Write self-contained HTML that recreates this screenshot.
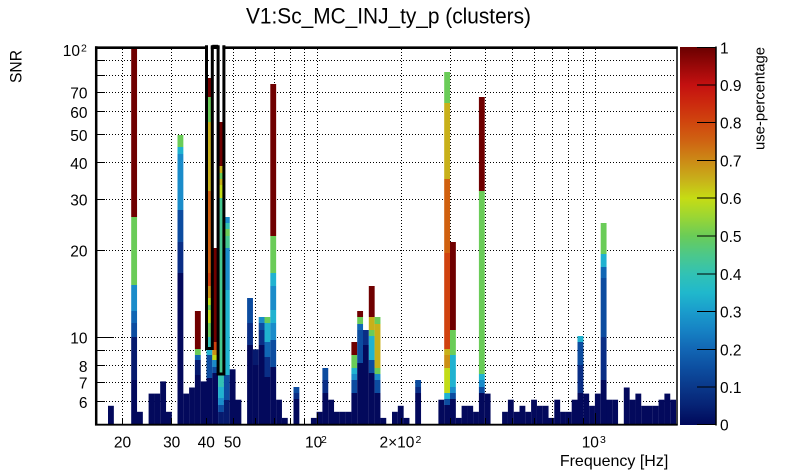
<!DOCTYPE html>
<html><head><meta charset="utf-8"><style>
html,body{margin:0;padding:0;background:#fff;}
body{width:805px;height:472px;overflow:hidden;}
svg{display:block;font-family:"Liberation Sans",Arial,sans-serif;}
.n{fill:#03095c}.n1{fill:#061a6e}.n2{fill:#0a2e86}.b1{fill:#0c4ca0}.b2{fill:#1066b4}.b3{fill:#1a8cca}
.cy{fill:#20b2d0}.tl{fill:#32c2b4}.tg{fill:#46c890}.gr{fill:#6acc58}.yg{fill:#c2dc18}.yl{fill:#c8b01a}
.oc{fill:#cc9016}.or{fill:#d0600e}.ro{fill:#d0420e}.dr{fill:#700000}
</style></head><body>
<svg width="805" height="472" viewBox="0 0 805 472" xmlns="http://www.w3.org/2000/svg">
<defs>
<linearGradient id="pal" x1="0" y1="0" x2="0" y2="1">
<stop offset="0" stop-color="#6a0000"/><stop offset="0.05" stop-color="#980808"/><stop offset="0.10" stop-color="#c41010"/>
<stop offset="0.15" stop-color="#cc2a0e"/><stop offset="0.20" stop-color="#d0460e"/><stop offset="0.25" stop-color="#cf6412"/>
<stop offset="0.30" stop-color="#cc8a16"/><stop offset="0.35" stop-color="#c8b01a"/><stop offset="0.40" stop-color="#c6dc14"/>
<stop offset="0.45" stop-color="#9ad634"/><stop offset="0.50" stop-color="#6acc58"/><stop offset="0.55" stop-color="#4cc88a"/>
<stop offset="0.60" stop-color="#32c2b4"/><stop offset="0.65" stop-color="#20b8cc"/><stop offset="0.70" stop-color="#1a9ccc"/>
<stop offset="0.75" stop-color="#1682c4"/><stop offset="0.80" stop-color="#1266b4"/><stop offset="0.85" stop-color="#0c4ea0"/>
<stop offset="0.90" stop-color="#0a388a"/><stop offset="0.95" stop-color="#062274"/><stop offset="1" stop-color="#00085a"/>
</linearGradient>
</defs>
<rect x="0" y="0" width="805" height="472" fill="#fff"/>

<text x="246" y="23.5" font-size="22" textLength="285" lengthAdjust="spacingAndGlyphs">V1:Sc_MC_INJ_ty_p (clusters)</text>

<g stroke="#000" stroke-width="1" stroke-dasharray="1,2" fill="none">
<path d="M97,401.5H676M97,382.5H676M97,365.5H676M97,350.5H676M97,337.5H676M97,250.5H676M97,199.5H676M97,162.5H676M97,134.5H676M97,111.5H676M97,92.5H676M97,75.5H676M97,60.5H676"/>
<path d="M122.5,49V423M171.5,49V423M206.5,49V423M233.5,49V423M255.5,49V423M274.5,49V423M290.5,49V423M304.5,49V423M317.5,49V423M401.5,49V423M450.5,49V423M485.5,49V423M512.5,49V423M534.5,49V423M552.5,49V423M568.5,49V423M583.5,49V423M595.5,49V423"/>
</g>

<g>
<rect class="n" x="108.0" y="405.8" width="5.85" height="18.2"/>
<rect class="n" x="131.2" y="380" width="5.85" height="44"/>
<rect class="n1" x="131.2" y="337" width="5.85" height="43"/>
<rect class="b1" x="131.2" y="323" width="5.85" height="14"/>
<rect class="b2" x="131.2" y="311" width="5.85" height="12"/>
<rect class="b3" x="131.2" y="285" width="5.85" height="26"/>
<rect class="gr" x="131.2" y="217" width="5.85" height="68"/>
<rect class="dr" x="131.2" y="47" width="5.85" height="170"/>
<rect class="n" x="137.0" y="411.8" width="5.85" height="12.2"/>
<rect class="n" x="148.6" y="393.6" width="5.85" height="30.4"/>
<rect class="n" x="154.4" y="393.6" width="5.85" height="30.4"/>
<rect class="n" x="160.2" y="381.4" width="5.85" height="42.6"/>
<rect class="n" x="166.0" y="411.8" width="5.85" height="12.2"/>
<rect class="n" x="177.5" y="273" width="5.85" height="151"/>
<rect class="n2" x="177.5" y="242" width="5.85" height="31"/>
<rect class="b1" x="177.5" y="210" width="5.85" height="32"/>
<rect class="b3" x="177.5" y="154" width="5.85" height="56"/>
<rect class="cy" x="177.5" y="147" width="5.85" height="7"/>
<rect class="gr" x="177.5" y="135" width="5.85" height="12"/>
<rect class="n" x="183.3" y="393.6" width="5.85" height="30.4"/>
<rect class="n" x="189.1" y="387.5" width="5.85" height="36.5"/>
<rect class="n" x="194.9" y="375" width="5.85" height="49"/>
<rect class="n1" x="194.9" y="360" width="5.85" height="15"/>
<rect class="b2" x="194.9" y="355" width="5.85" height="5"/>
<rect class="gr" x="194.9" y="349" width="5.85" height="6"/>
<rect class="dr" x="194.9" y="311" width="5.85" height="38"/>
<rect class="n" x="200.7" y="381.4" width="5.85" height="42.6"/>
<rect class="n" x="206.5" y="378" width="5.85" height="46"/>
<rect class="b1" x="206.5" y="355" width="5.85" height="23"/>
<rect class="cy" x="206.5" y="350" width="5.85" height="5"/>
<rect class="tl" x="206.5" y="337" width="5.85" height="13"/>
<rect class="gr" x="206.5" y="323" width="5.85" height="14"/>
<rect class="yg" x="206.5" y="310" width="5.85" height="13"/>
<rect class="gr" x="206.5" y="305" width="5.85" height="5"/>
<rect class="yg" x="206.5" y="298" width="5.85" height="7"/>
<rect class="oc" x="206.5" y="286" width="5.85" height="12"/>
<rect class="ro" x="206.5" y="273" width="5.85" height="13"/>
<rect class="or" x="206.5" y="191" width="5.85" height="82"/>
<rect class="yl" x="206.5" y="122" width="5.85" height="69"/>
<rect class="gr" x="206.5" y="97" width="5.85" height="25"/>
<rect class="dr" x="206.5" y="78" width="5.85" height="19"/>
<rect class="n" x="212.3" y="373" width="5.85" height="51"/>
<rect class="b1" x="212.3" y="367" width="5.85" height="6"/>
<rect class="b3" x="212.3" y="360" width="5.85" height="7"/>
<rect class="yg" x="212.3" y="355" width="5.85" height="5"/>
<rect class="oc" x="212.3" y="350" width="5.85" height="5"/>
<rect class="ro" x="212.3" y="342" width="5.85" height="8"/>
<rect class="dr" x="212.3" y="248" width="5.85" height="94"/>
<rect class="n1" x="218.1" y="412" width="5.85" height="12"/>
<rect class="b1" x="218.1" y="405" width="5.85" height="7"/>
<rect class="b3" x="218.1" y="398" width="5.85" height="7"/>
<rect class="cy" x="218.1" y="387" width="5.85" height="11"/>
<rect class="tl" x="218.1" y="375" width="5.85" height="12"/>
<rect class="tg" x="218.1" y="198" width="5.85" height="177"/>
<rect class="yg" x="218.1" y="185" width="5.85" height="13"/>
<rect class="yl" x="218.1" y="179" width="5.85" height="6"/>
<rect class="gr" x="218.1" y="173" width="5.85" height="6"/>
<rect class="yl" x="218.1" y="166" width="5.85" height="7"/>
<rect class="dr" x="218.1" y="122" width="5.85" height="44"/>
<rect class="n1" x="223.9" y="400" width="5.85" height="24"/>
<rect class="b1" x="223.9" y="375" width="5.85" height="25"/>
<rect class="cy" x="223.9" y="290" width="5.85" height="85"/>
<rect class="b3" x="223.9" y="248" width="5.85" height="42"/>
<rect class="tg" x="223.9" y="236" width="5.85" height="12"/>
<rect class="gr" x="223.9" y="229" width="5.85" height="7"/>
<rect class="tl" x="223.9" y="223" width="5.85" height="6"/>
<rect class="b3" x="223.9" y="217" width="5.85" height="6"/>
<rect class="n" x="229.7" y="369.3" width="5.85" height="54.7"/>
<rect class="n" x="235.5" y="399.7" width="5.85" height="24.3"/>
<rect class="n" x="247.1" y="345" width="5.85" height="79"/>
<rect class="n2" x="247.1" y="323" width="5.85" height="22"/>
<rect class="b1" x="247.1" y="298" width="5.85" height="25"/>
<rect class="n" x="252.9" y="365" width="5.85" height="59"/>
<rect class="n1" x="252.9" y="349.3" width="5.85" height="15.7"/>
<rect class="n" x="258.7" y="345" width="5.85" height="79"/>
<rect class="n2" x="258.7" y="330" width="5.85" height="15"/>
<rect class="b1" x="258.7" y="323" width="5.85" height="7"/>
<rect class="b3" x="258.7" y="317" width="5.85" height="6"/>
<rect class="n" x="264.5" y="377" width="5.85" height="47"/>
<rect class="n2" x="264.5" y="357" width="5.85" height="20"/>
<rect class="b2" x="264.5" y="342" width="5.85" height="15"/>
<rect class="cy" x="264.5" y="323" width="5.85" height="19"/>
<rect class="gr" x="264.5" y="317" width="5.85" height="6"/>
<rect class="n" x="270.3" y="367" width="5.85" height="57"/>
<rect class="b1" x="270.3" y="340" width="5.85" height="27"/>
<rect class="b3" x="270.3" y="323" width="5.85" height="17"/>
<rect class="cy" x="270.3" y="310" width="5.85" height="13"/>
<rect class="b3" x="270.3" y="286" width="5.85" height="24"/>
<rect class="cy" x="270.3" y="273" width="5.85" height="13"/>
<rect class="gr" x="270.3" y="236" width="5.85" height="37"/>
<rect class="dr" x="270.3" y="84" width="5.85" height="152"/>
<rect class="n" x="276.1" y="399.7" width="5.85" height="24.3"/>
<rect class="n" x="281.9" y="417.9" width="5.85" height="6.1"/>
<rect class="n" x="293.5" y="399" width="5.85" height="25"/>
<rect class="n2" x="293.5" y="393" width="5.85" height="6"/>
<rect class="b1" x="293.5" y="387" width="5.85" height="6"/>
<rect class="n" x="310.9" y="417.9" width="5.85" height="6.1"/>
<rect class="n" x="316.6" y="411.8" width="5.85" height="12.2"/>
<rect class="n" x="322.4" y="393" width="5.85" height="31"/>
<rect class="n2" x="322.4" y="380" width="5.85" height="13"/>
<rect class="b1" x="322.4" y="368" width="5.85" height="12"/>
<rect class="n" x="328.2" y="399.7" width="5.85" height="24.3"/>
<rect class="n" x="334.0" y="411.8" width="5.85" height="12.2"/>
<rect class="n" x="339.8" y="411.8" width="5.85" height="12.2"/>
<rect class="n" x="345.6" y="411.8" width="5.85" height="12.2"/>
<rect class="n" x="351.4" y="393" width="5.85" height="31"/>
<rect class="b1" x="351.4" y="380" width="5.85" height="13"/>
<rect class="b3" x="351.4" y="374" width="5.85" height="6"/>
<rect class="cy" x="351.4" y="368" width="5.85" height="6"/>
<rect class="gr" x="351.4" y="355" width="5.85" height="13"/>
<rect class="dr" x="351.4" y="342" width="5.85" height="13"/>
<rect class="n" x="357.2" y="363" width="5.85" height="61"/>
<rect class="b1" x="357.2" y="330" width="5.85" height="33"/>
<rect class="b2" x="357.2" y="324" width="5.85" height="6"/>
<rect class="gr" x="357.2" y="317" width="5.85" height="7"/>
<rect class="dr" x="357.2" y="311" width="5.85" height="6"/>
<rect class="n" x="363.0" y="345" width="5.85" height="79"/>
<rect class="n2" x="363.0" y="330" width="5.85" height="15"/>
<rect class="n" x="368.8" y="373" width="5.85" height="51"/>
<rect class="b1" x="368.8" y="360" width="5.85" height="13"/>
<rect class="cy" x="368.8" y="336" width="5.85" height="24"/>
<rect class="gr" x="368.8" y="330" width="5.85" height="6"/>
<rect class="yl" x="368.8" y="317" width="5.85" height="13"/>
<rect class="dr" x="368.8" y="286" width="5.85" height="31"/>
<rect class="n" x="374.6" y="393" width="5.85" height="31"/>
<rect class="b1" x="374.6" y="380" width="5.85" height="13"/>
<rect class="b3" x="374.6" y="374" width="5.85" height="6"/>
<rect class="gr" x="374.6" y="368" width="5.85" height="6"/>
<rect class="yl" x="374.6" y="324" width="5.85" height="44"/>
<rect class="gr" x="374.6" y="317" width="5.85" height="7"/>
<rect class="n" x="380.4" y="417.9" width="5.85" height="6.1"/>
<rect class="n" x="392.0" y="411.8" width="5.85" height="12.2"/>
<rect class="n" x="397.8" y="405.8" width="5.85" height="18.2"/>
<rect class="n" x="403.6" y="417.9" width="5.85" height="6.1"/>
<rect class="n" x="415.2" y="393" width="5.85" height="31"/>
<rect class="n2" x="415.2" y="387" width="5.85" height="6"/>
<rect class="b1" x="415.2" y="380" width="5.85" height="7"/>
<rect class="n" x="438.4" y="399.7" width="5.85" height="24.3"/>
<rect class="n" x="444.2" y="405" width="5.85" height="19"/>
<rect class="b1" x="444.2" y="399" width="5.85" height="6"/>
<rect class="cy" x="444.2" y="393" width="5.85" height="6"/>
<rect class="yg" x="444.2" y="368" width="5.85" height="25"/>
<rect class="oc" x="444.2" y="355" width="5.85" height="13"/>
<rect class="yl" x="444.2" y="349" width="5.85" height="6"/>
<rect class="ro" x="444.2" y="253" width="5.85" height="96"/>
<rect class="or" x="444.2" y="179" width="5.85" height="74"/>
<rect class="yl" x="444.2" y="103" width="5.85" height="76"/>
<rect class="gr" x="444.2" y="72" width="5.85" height="31"/>
<rect class="n" x="450.0" y="399" width="5.85" height="25"/>
<rect class="b1" x="450.0" y="393" width="5.85" height="6"/>
<rect class="b3" x="450.0" y="387" width="5.85" height="6"/>
<rect class="cy" x="450.0" y="355" width="5.85" height="32"/>
<rect class="gr" x="450.0" y="330" width="5.85" height="25"/>
<rect class="dr" x="450.0" y="242" width="5.85" height="88"/>
<rect class="n" x="455.8" y="417.9" width="5.85" height="6.1"/>
<rect class="n" x="461.6" y="405.8" width="5.85" height="18.2"/>
<rect class="n" x="467.3" y="405.8" width="5.85" height="18.2"/>
<rect class="n" x="473.1" y="411.8" width="5.85" height="12.2"/>
<rect class="n" x="478.9" y="393" width="5.85" height="31"/>
<rect class="b1" x="478.9" y="387" width="5.85" height="6"/>
<rect class="b3" x="478.9" y="380" width="5.85" height="7"/>
<rect class="cy" x="478.9" y="374" width="5.85" height="6"/>
<rect class="gr" x="478.9" y="191" width="5.85" height="183"/>
<rect class="dr" x="478.9" y="97" width="5.85" height="94"/>
<rect class="n" x="484.7" y="393.6" width="5.85" height="30.4"/>
<rect class="n" x="502.1" y="411.8" width="5.85" height="12.2"/>
<rect class="n" x="507.9" y="399.7" width="5.85" height="24.3"/>
<rect class="n" x="513.7" y="411.8" width="5.85" height="12.2"/>
<rect class="n" x="519.5" y="405.8" width="5.85" height="18.2"/>
<rect class="n" x="525.3" y="411.8" width="5.85" height="12.2"/>
<rect class="n" x="531.1" y="399.7" width="5.85" height="24.3"/>
<rect class="n" x="536.9" y="405.8" width="5.85" height="18.2"/>
<rect class="n" x="542.7" y="405.8" width="5.85" height="18.2"/>
<rect class="n" x="548.5" y="417.9" width="5.85" height="6.1"/>
<rect class="n" x="554.3" y="399.7" width="5.85" height="24.3"/>
<rect class="n" x="560.1" y="411.8" width="5.85" height="12.2"/>
<rect class="n" x="565.9" y="411.8" width="5.85" height="12.2"/>
<rect class="n" x="571.7" y="399.7" width="5.85" height="24.3"/>
<rect class="n" x="577.5" y="393" width="5.85" height="31"/>
<rect class="n2" x="577.5" y="365" width="5.85" height="28"/>
<rect class="b1" x="577.5" y="342" width="5.85" height="23"/>
<rect class="cy" x="577.5" y="336" width="5.85" height="6"/>
<rect class="n" x="583.3" y="393.6" width="5.85" height="30.4"/>
<rect class="n" x="589.1" y="405.8" width="5.85" height="18.2"/>
<rect class="n" x="594.9" y="393.6" width="5.85" height="30.4"/>
<rect class="n" x="600.7" y="380" width="5.85" height="44"/>
<rect class="n2" x="600.7" y="337" width="5.85" height="43"/>
<rect class="b1" x="600.7" y="278" width="5.85" height="59"/>
<rect class="b2" x="600.7" y="267" width="5.85" height="11"/>
<rect class="cy" x="600.7" y="254" width="5.85" height="13"/>
<rect class="gr" x="600.7" y="223" width="5.85" height="31"/>
<rect class="n" x="606.4" y="399.7" width="5.85" height="24.3"/>
<rect class="n" x="612.2" y="399.7" width="5.85" height="24.3"/>
<rect class="n" x="623.8" y="387.5" width="5.85" height="36.5"/>
<rect class="n" x="629.6" y="399.7" width="5.85" height="24.3"/>
<rect class="n" x="635.4" y="393.6" width="5.85" height="30.4"/>
<rect class="n" x="641.2" y="405.8" width="5.85" height="18.2"/>
<rect class="n" x="647.0" y="405.8" width="5.85" height="18.2"/>
<rect class="n" x="652.8" y="405.8" width="5.85" height="18.2"/>
<rect class="n" x="658.6" y="399.7" width="5.85" height="24.3"/>
<rect class="n" x="664.4" y="393.6" width="5.85" height="30.4"/>
<rect class="n" x="670.2" y="399.7" width="5.8" height="24.3"/>
</g>

<g stroke="#000" fill="none">
<line x1="96.2" y1="46.3" x2="96.2" y2="425.5" stroke-width="2.5"/>
<line x1="95" y1="47.7" x2="677.7" y2="47.7" stroke-width="2.6"/>
<line x1="677" y1="46.5" x2="677" y2="425.3" stroke-width="1.5"/>
<line x1="95" y1="424.7" x2="677.7" y2="424.7" stroke-width="1.8"/>
</g>
<rect x="208" y="46" width="2.8" height="3.5" fill="#fff"/>
<rect x="219.6" y="46" width="2.8" height="3.5" fill="#fff"/>
<g stroke="#000" stroke-width="3" fill="none">
<path d="M206.5,45.3V348.5H212.3V45.3"/>
<path d="M218.1,45.3V374H223.9V45.3"/>
<path d="M212.3,46.3H218.1"/>
</g>

<g stroke="#000" stroke-width="1">
<path d="M97,337.5H114M97,401.5H105M97,382.5H105M97,365.5H105M97,350.5H105M97,250.5H105M97,199.5H105M97,162.5H105M97,134.5H105M97,111.5H105M97,92.5H105M97,75.5H105M97,60.5H105"/>
<path d="M317.5,424V413M595.5,424V413M122.5,424V418M171.5,424V418M206.5,424V418M233.5,424V418M255.5,424V418M274.5,424V418M290.5,424V418M304.5,424V418M401.5,424V418M450.5,424V418M485.5,424V418M512.5,424V418M534.5,424V418M552.5,424V418M568.5,424V418M583.5,424V418"/>
</g>

<g font-size="15.5" text-anchor="end" fill="#000">
<text x="87.5" y="408">6</text>
<text x="87.5" y="388.7">7</text>
<text x="87.5" y="372">8</text>
<text x="87.5" y="343.5">10</text>
<text x="87.5" y="256.5">20</text>
<text x="87.5" y="205.5">30</text>
<text x="87.5" y="169.2">40</text>
<text x="87.5" y="141">50</text>
<text x="87.5" y="118">60</text>
<text x="87.5" y="98.7">70</text>
<text x="80" y="56">10</text>
</g>
<text x="81" y="51.5" font-size="10.5">2</text>
<text transform="translate(21.5,50) rotate(-90)" font-size="17" text-anchor="end" textLength="33" lengthAdjust="spacingAndGlyphs">SNR</text>

<g font-size="15.5" text-anchor="middle">
<text x="122.5" y="447.7">20</text>
<text x="171.7" y="447.7">30</text>
<text x="206.3" y="447.7">40</text>
<text x="232.5" y="447.7">50</text>
</g>
<g font-size="15.5">
<text x="305" y="447.7">10</text>
<text x="379.5" y="447.7">2×10</text>
<text x="581.7" y="447.7">10</text>
</g>
<g font-size="10.5">
<text x="321" y="443">2</text>
<text x="415.5" y="443">2</text>
<text x="600" y="443">3</text>
</g>
<text x="668.3" y="466" font-size="16" text-anchor="end">Frequency [Hz]</text>

<rect x="680" y="47" width="36" height="378" fill="url(#pal)"/>
<g stroke="#000" stroke-width="1">
<line x1="716" y1="46.5" x2="716" y2="425.5" stroke-width="1.5"/>
<path d="M697,47.5H716M697,85H716M697,122.5H716M697,160.5H716M697,198H716M697,236H716M697,274H716M697,311.5H716M697,349.5H716M697,387H716M697,424.5H716"/>
</g>
<g font-size="15.5" fill="#000">
<text x="720" y="53.3">1</text>
<text x="720" y="90.8">0.9</text>
<text x="720" y="128.6">0.8</text>
<text x="720" y="166.4">0.7</text>
<text x="720" y="204.2">0.6</text>
<text x="720" y="242">0.5</text>
<text x="720" y="279.8">0.4</text>
<text x="720" y="317.6">0.3</text>
<text x="720" y="355.4">0.2</text>
<text x="720" y="393.2">0.1</text>
<text x="720" y="430.5">0</text>
</g>
<text transform="translate(764.5,47) rotate(-90)" font-size="15" text-anchor="end" textLength="103" lengthAdjust="spacingAndGlyphs">use-percentage</text>
</svg>
</body></html>
